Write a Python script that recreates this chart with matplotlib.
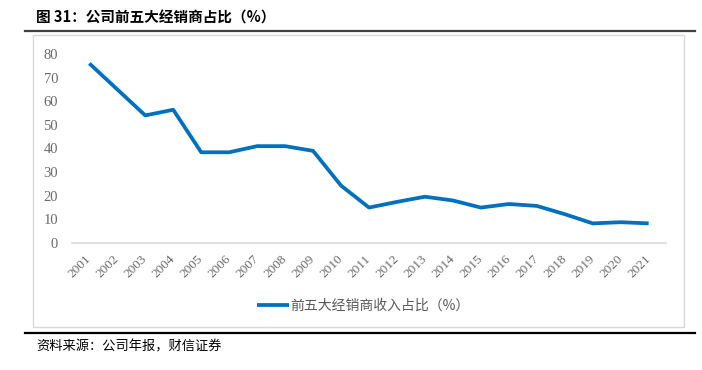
import matplotlib
matplotlib.use("Agg")
import matplotlib.pyplot as plt
from matplotlib.lines import Line2D
from matplotlib.patches import Rectangle
import matplotlib.transforms as mtransforms

years = [str(y) for y in range(2001, 2022)]
share = [76, 65, 54, 56.4, 38.4, 38.4, 41, 41, 39, 24.3, 15,
         17.4, 19.6, 18, 15, 16.5, 15.7, 12.2, 8.3, 8.8, 8.3]
yticks = [0, 10, 20, 30, 40, 50, 60, 70, 80]
title = "图 31：公司前五大经销商占比（%）"
legend_label = "前五大经销商收入占比（%）"
source = "资料来源：公司年报，财信证券"

W, H = 702, 370
fig = plt.figure(figsize=(W / 100, H / 100), dpi=100)
cjk = ["Noto Sans CJK SC", "DejaVu Sans"]
serif = ["Liberation Serif", "Noto Sans CJK SC"]

# frame lines and box
fig.add_artist(Line2D([25 / W, 695 / W], [1 - 31 / H, 1 - 31 / H], color="#404040", lw=1.6))
fig.add_artist(Line2D([25 / W, 695 / W], [1 - 333 / H, 1 - 333 / H], color="black", lw=1.6))
fig.add_artist(Rectangle((33 / W, 1 - 327 / H), (684 - 33) / W, (327 - 35) / H,
                         fill=False, edgecolor="#d9d9d9", lw=1.0))

fig.text(36 / W, 1 - 18 / H, title, fontsize=10.5, fontweight="bold", family=cjk,
         va="center", ha="left", color="black")
fig.text(36 / W, 1 - 347 / H, source, fontsize=9.5, family=cjk, style="italic",
         va="center", ha="left", color="black")

left, right, top, bottom = 72, 666, 54, 243
ax = fig.add_axes([left / W, 1 - bottom / H, (right - left) / W, (bottom - top) / H])
x = list(range(len(years)))
line, = ax.plot(x, share, color="#0070c0", lw=2.7, solid_joinstyle="round",
                solid_capstyle="butt")
ax.set_xlim(-0.62, len(years) - 1 + 0.62)
ax.set_ylim(0, 80)
ax.set_yticks(yticks)
ax.set_yticklabels([str(v) for v in yticks], family=serif, fontsize=10.5, color="#6a6a6a")
ax.set_xticks(x)
ax.set_xticklabels(years, rotation=45, ha="right", va="center", rotation_mode="anchor",
                   family=serif, fontsize=9.5, color="#6a6a6a")
offset = mtransforms.ScaledTranslation(-3 / 100, 0, fig.dpi_scale_trans)
for lab in ax.get_xticklabels():
    lab.set_transform(lab.get_transform() + offset)
ax.tick_params(axis="both", length=0)
ax.tick_params(axis="y", pad=10)
ax.tick_params(axis="x", pad=10)
for s in ["top", "right", "left"]:
    ax.spines[s].set_visible(False)
ax.spines["bottom"].set_color("#d9d9d9")
ax.spines["bottom"].set_linewidth(1.2)

leg = fig.legend([line], [legend_label], loc="center", bbox_to_anchor=(363 / W, 1 - 306 / H),
                 frameon=False, prop={"family": cjk, "size": 10}, handlelength=2.3,
                 handletextpad=0.1)
for t in leg.get_texts():
    t.set_color("#595959")

fig.savefig("out.png", dpi=100)
